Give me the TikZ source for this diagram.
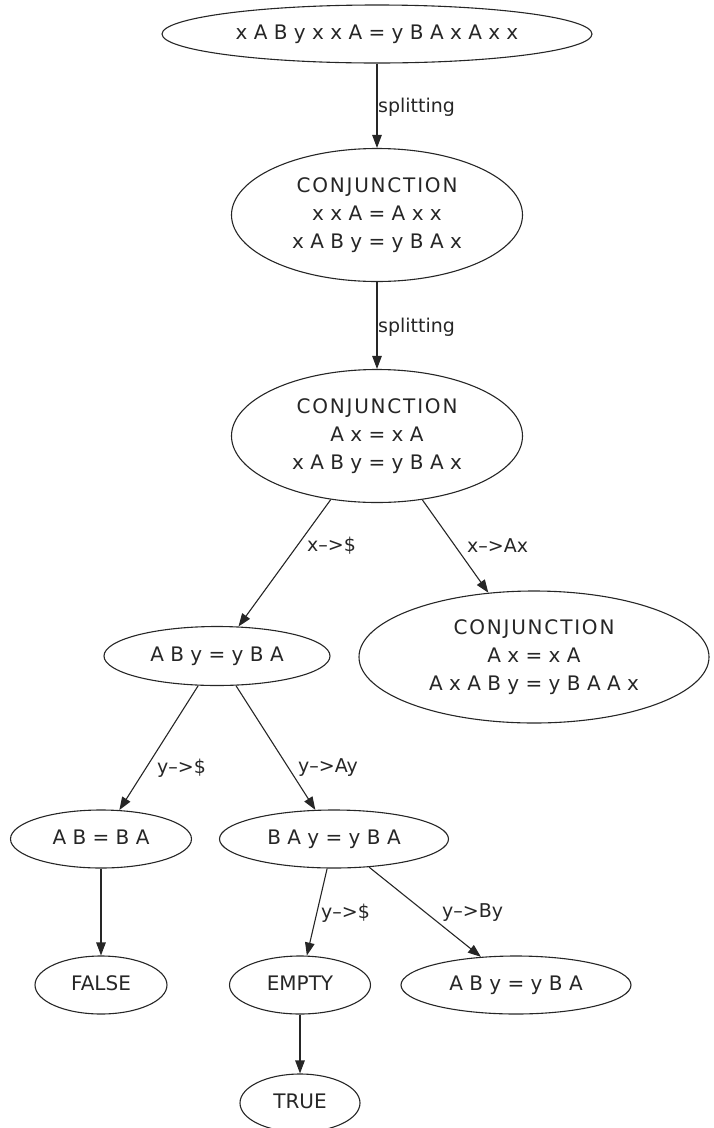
\documentclass[tikz,border=0pt]{standalone}
\usepackage{fontspec}
\setmainfont{DejaVu Sans}
\usetikzlibrary{shapes.geometric,arrows.meta}
\newcommand{\mlines}[1]{\makebox[0pt]{\begin{tabular}{@{}c@{}}#1\end{tabular}}}
\newcommand{\conj}{{\addfontfeatures{LetterSpace=9}CONJUNCTION}}
\begin{document}
\begin{tikzpicture}[x=1pt,y=-1pt,
  state/.style={draw=black!85, line width=1.1pt, ellipse, inner sep=0pt,
     font=\fontsize{20}{28}\selectfont, text=black!85},
  edge/.style={draw=black!85, line width=1.1pt, -{Triangle[length=13pt,width=9.5pt]}},
  lbl/.style={anchor=west, inner sep=1pt, font=\fontsize{19}{22}\selectfont, text=black!85}]
\useasboundingbox (0,0) rectangle (714,1128);
\node[state, minimum width=430pt, minimum height=58pt] (top) at (377,34) {\mlines{x A B y x x A = y B A x A x x}};
\node[state, minimum width=291pt, minimum height=133pt] (c1) at (377,215) {\mlines{\conj\\x x A = A x x\\x A B y = y B A x}};
\node[state, minimum width=291pt, minimum height=133pt] (c2) at (377,436) {\mlines{\conj\\A x = x A\\x A B y = y B A x}};
\node[state, minimum width=226pt, minimum height=59pt] (aby) at (217,656) {\mlines{A B y = y B A}};
\node[state, minimum width=350pt, minimum height=132pt] (c3) at (534,657) {\mlines{\conj\\A x = x A\\A x A B y = y B A A x}};
\node[state, minimum width=181pt, minimum height=58pt] (ab) at (101,839) {\mlines{A B = B A}};
\node[state, minimum width=229pt, minimum height=58pt] (bay) at (334,839) {\mlines{B A y = y B A}};
\node[state, minimum width=132pt, minimum height=58pt] (false) at (101,985) {\mlines{FALSE}};
\node[state, minimum width=141pt, minimum height=58pt] (empty) at (300,985) {\mlines{EMPTY}};
\node[state, minimum width=230pt, minimum height=58pt] (aby2) at (516,985) {\mlines{A B y = y B A}};
\node[state, minimum width=120pt, minimum height=58pt] (true) at (300,1103) {\mlines{TRUE}};

\draw[edge] (top) -- (c1);
\draw[edge] (c1) -- (c2);
\draw[edge] (c2) -- (aby);
\draw[edge] (c2) -- (c3);
\draw[edge] (aby) -- (ab);
\draw[edge] (aby) -- (bay);
\draw[edge] (ab) -- (false);
\draw[edge] (bay) -- (empty);
\draw[edge] (bay) -- (aby2);
\draw[edge] (empty) -- (true);

\node[lbl] (l1) at (377,107) {splitting};
\node[lbl] (l2) at (377,327) {splitting};
\node[lbl] (l3) at (306,546) {x–>\$};
\node[lbl] (l4) at (466,546) {x–>Ax};
\node[lbl] (l5) at (156,768) {y–>\$};
\node[lbl] (l6) at (297,768) {y–>Ay};
\node[lbl] (l7) at (320,913) {y–>\$};
\node[lbl] (l8) at (441,913) {y–>By};
\end{tikzpicture}
\end{document}
